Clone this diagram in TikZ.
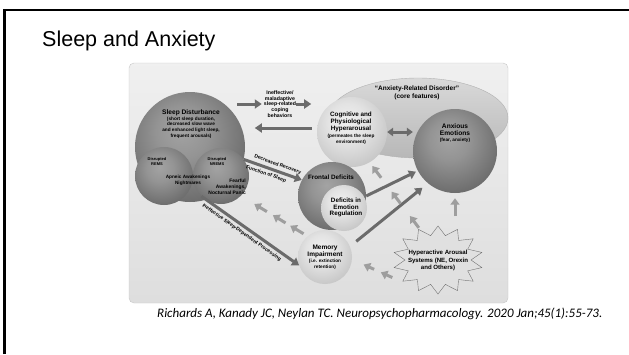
\documentclass[tikz,border=0pt]{standalone}
\usepackage{fontspec}
\setmainfont{Liberation Sans}
\newfontfamily\citefont{Carlito}
\usetikzlibrary{calc,arrows.meta,shapes.geometric}

\pgfdeclareradialshading{darkball}{\pgfpoint{-4bp}{8bp}}{color(0bp)=(black!36); color(12bp)=(black!42); color(38bp)=(black!64); color(50bp)=(black!76); color(80bp)=(black!78)}
\pgfdeclareradialshading{lightball}{\pgfpoint{-4bp}{8bp}}{color(0bp)=(black!6); color(14bp)=(black!11); color(38bp)=(black!27); color(50bp)=(black!42); color(80bp)=(black!44)}

\begin{document}
\begin{tikzpicture}[x=1pt, y=-1pt,
  sphere/.style={circle, inner sep=0pt, shade},
  lbl/.style={align=center, inner sep=0pt, font=\bfseries\fontsize{6.3}{7.1}\selectfont},
  sublbl/.style={align=center, inner sep=0pt, font=\bfseries\fontsize{4.7}{5.7}\selectfont},
  arrowlbl/.style={inner sep=0pt, font=\bfseries\fontsize{5}{6}\selectfont},
  bigarrow/.style={draw=black!58, line width=3pt, -{Triangle[length=7pt, width=9pt]}},
  softarrow/.style={draw=black!38, line width=3pt, -{Triangle[length=6.5pt, width=9pt]}}]
  \useasboundingbox (0,0) rectangle (629,354);
  % slide frame and title
  \draw[line width=2.5pt] (4.5,354) -- (4.5,10) -- (629,10);
  \node[anchor=base west, inner sep=0pt, font=\fontsize{21.5}{25}\selectfont] (title) at (42,46) {Sleep and Anxiety};
  % figure panel
  \draw[draw=black!22, top color=black!6, bottom color=black!13, rounded corners=5pt] (129,63) rectangle (508,303);
  \node[ellipse, draw=black!30, top color=black!15, bottom color=black!28, minimum width=180pt, minimum height=80pt, inner sep=0pt] (disorder) at (418,118) {};
  % spheres
  \node[sphere, shading=darkball, minimum size=110pt] (sleep) at (190,147) {};
  \node[sphere, shading=darkball, minimum size=58pt] (rems) at (164,176) {};
  \node[sphere, shading=darkball, minimum size=56pt] (nrems) at (221,176) {};
  \node[sphere, shading=lightball, minimum size=70pt] (hyper) at (352,132) {};
  \node[sphere, shading=darkball, minimum size=84pt] (anxious) at (455,151) {};
  \node[sphere, shading=darkball, minimum size=68pt] (frontal) at (332,196) {};
  \node[sphere, shading=lightball, minimum size=46pt] (regulation) at (344,208) {};
  \node[sphere, shading=lightball, minimum size=54pt] (memory) at (325,257) {};
  % arousal burst
  \coordinate (burstc) at (438,260);
  \draw[draw=black!55, fill=black!12] ($(burstc)+(90:45 and 34)$)
    \foreach \k [evaluate=\k as \rx using {ifthenelse(isodd(\k),33,45)},
                 evaluate=\k as \ry using {ifthenelse(isodd(\k),25,34)}] in {1,...,27}
    { -- ($(burstc)+({90+\k*360/28}:{\rx} and {\ry})$) } -- cycle;
  % labels
  \node[lbl, font=\bfseries\fontsize{6.6}{7.5}\selectfont] (sleeptitle) at (191,112.7) {Sleep Disturbance};
  \node[sublbl] (sleepsub) at (191,127.6) {(short sleep duration,\\decreased slow wave\\and enhanced light sleep,\\frequent arousals)};
  \node[sublbl, font=\bfseries\fontsize{4}{5.3}\selectfont] (remstxt) at (157,161.5) {Disrupted\\REMS};
  \node[sublbl, font=\bfseries\fontsize{4}{5.3}\selectfont] (nremstxt) at (217,161.5) {Disrupted\\NREMS};
  \node[sublbl] (apneic) at (188,180) {Apneic Awakenings\\Nightmares};
  \node[sublbl, align=right, anchor=east, font=\bfseries\fontsize{4.9}{6.2}\selectfont] (fearful) at (246,187) {Fearful\\Awakenings,\\Nocturnal Panic};
  \node[sublbl, font=\bfseries\fontsize{5.2}{5.6}\selectfont] (coping) at (280,104) {Ineffective/\\maladaptive\\sleep-related\\coping\\behaviors};
  \node[lbl, font=\bfseries\fontsize{6.5}{7.4}\selectfont] (disordertxt) at (417,93) {``Anxiety-Related Disorder''\\(core features)};
  \node[lbl] (hypertxt) at (351,122.2) {Cognitive and\\Physiological\\Hyperarousal};
  \node[sublbl] (hypersub) at (351,139.5) {(permeates the sleep\\environment)};
  \node[lbl, font=\bfseries\fontsize{6.6}{7}\selectfont] (anxioustxt) at (455,129.2) {Anxious\\Emotions};
  \node[sublbl] (anxioussub) at (455,140) {(fear, anxiety)};
  \node[lbl] (frontaltxt) at (331,177.3) {Frontal Deficits};
  \node[lbl, font=\bfseries\fontsize{6.3}{6.8}\selectfont] (regtxt) at (346,207.5) {Deficits in\\Emotion\\Regulation};
  \node[lbl, font=\bfseries\fontsize{6.5}{6.7}\selectfont] (memorytxt) at (325,251.7) {Memory\\Impairment};
  \node[sublbl] (memorysub) at (325,264) {(i.e. extinction\\retention)};
  \node[lbl, font=\bfseries\fontsize{6.1}{7.2}\selectfont] (arousal) at (438,260.5) {Hyperactive Arousal\\Systems (NE, Orexin\\and Others)};
  % main arrows
  \coordinate (c1) at (237,104);
  \draw[bigarrow, shorten >=2pt] (c1) -- (c1 -| coping.west);
  \draw[bigarrow] (coping.east) -- ++(15,0);
  \draw[bigarrow, shorten <=5pt] ([yshift=4pt]hyper.west) -- ++(-62,0);
  \draw[bigarrow, {Triangle[length=6pt, width=8.5pt]}-{Triangle[length=6pt, width=8.5pt]}] (hyper.east) -- (hyper.east -| anxious.west);
  \draw[bigarrow] (sleep.-13) -- (frontal.152)
    node[arrowlbl, pos=0.55, sloped, above=2.5pt] {Decreased Recovery}
    node[arrowlbl, pos=0.42, sloped, below=2.5pt] {Function of Sleep};
  \draw[bigarrow] (nrems.226) -- (memory.198)
    node[arrowlbl, pos=0.45, sloped, below=2.5pt] {Ineffective Sleep-Dependent Processing};
  \draw[bigarrow, shorten >=2pt] (frontal.east) -- (anxious.208);
  \draw[bigarrow, shorten <=8pt, shorten >=7pt] (memory.23) -- (anxious.230);
  % grey feedback arrows
  \coordinate (s1) at (422,232);
  \coordinate (s2) at (400,281);
  \coordinate (s3) at (455,216);
  \foreach \a/\b in {0.06/0.26, 0.33/0.52, 0.61/0.80}
    \draw[softarrow] ($(memory.130)!\a!(nrems.-45)$) -- ($(memory.130)!\b!(nrems.-45)$);
  \foreach \a/\b in {0.06/0.23, 0.41/0.58, 0.78/0.95}
    \draw[softarrow] ($(s1)!\a!(hyper.-60)$) -- ($(s1)!\b!(hyper.-60)$);
  \foreach \a/\b in {0.16/0.40, 0.54/0.76}
    \draw[softarrow] ($(s2)!\a!(memory.-5)$) -- ($(s2)!\b!(memory.-5)$);
  \draw[softarrow] (s3) -- ($(s3)!0.78!(anxious.south)$);
  % reference
  \node[anchor=base west, inner sep=0pt, font=\citefont\itshape\fontsize{13}{15}\selectfont] (cite) at (157,317) {Richards A, Kanady JC, Neylan TC. Neuropsychopharmacology. 2020 Jan;45(1):55-73.};
\end{tikzpicture}
\end{document}
